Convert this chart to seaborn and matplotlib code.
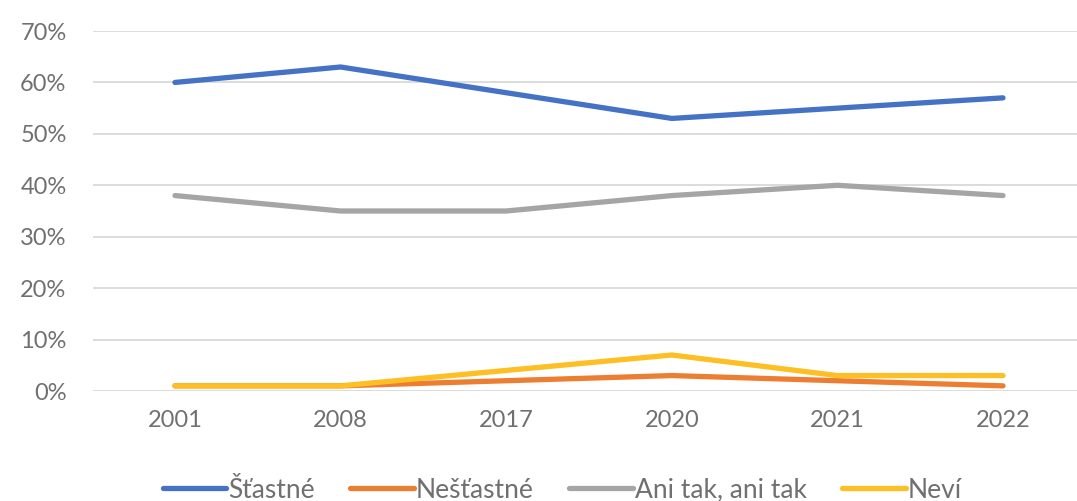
import matplotlib
matplotlib.use("Agg")
import matplotlib.pyplot as plt
import seaborn as sns
import pandas as pd
from matplotlib.ticker import FuncFormatter

years = ["2001", "2008", "2017", "2020", "2021", "2022"]
series_names = ["Šťastné", "Nešťastné", "Ani tak, ani tak", "Neví"]
stastne = [60, 63, 58, 53, 55, 57]
nestastne = [1, 1, 2, 3, 2, 1]
ani_tak = [38, 35, 35, 38, 40, 38]
nevi = [1, 1, 4, 7, 3, 3]
colors = ["#4472C4", "#ED7D31", "#A5A5A5", "#FDBF24"]

rows = []
for name, vals in zip(series_names, [stastne, nestastne, ani_tak, nevi]):
    for i, (y, v) in enumerate(zip(years, vals)):
        rows.append({"pos": i, "year": y, "value": v / 100, "series": name})
df = pd.DataFrame(rows)

sns.set_theme(style="white")
plt.rcParams["font.family"] = ["Lato", "DejaVu Sans"]

fig = plt.figure(figsize=(10.77, 5.01), dpi=100)
ax = fig.add_axes([93 / 1077, 1 - 391 / 501, 1 - 93 / 1077, (391 - 31) / 501])

sns.lineplot(data=df, x="pos", y="value", hue="series", hue_order=series_names,
             palette=colors, linewidth=3.8, ax=ax, legend=True,
             solid_capstyle="round", sort=False)

step = 165.6
ax.set_xlim((93 - 175) / step, (1077 - 175) / step)
ax.set_ylim(0, 0.7)
ax.set_yticks([i / 10 for i in range(8)])
ax.yaxis.set_major_formatter(FuncFormatter(lambda v, p: f"{v * 100:.0f}%"))
ax.set_xticks(range(len(years)))
ax.set_xticklabels(years)
ax.set_xlabel("")
ax.set_ylabel("")
ax.grid(axis="y", color="#D9D9D9", linewidth=1.3)
ax.set_axisbelow(True)
for s in ax.spines.values():
    s.set_visible(False)
ax.tick_params(axis="both", length=0, labelsize=17, colors="#707070")
ax.tick_params(axis="y", pad=19)
ax.tick_params(axis="x", pad=14)

handles, labels = ax.get_legend_handles_labels()
ax.get_legend().remove()
for h in handles:
    h.set_linewidth(3.8)
    h.set_solid_capstyle("round")
leg = fig.legend(handles, labels, loc="center", bbox_to_anchor=(0.522, 1 - 490 / 501),
                 ncol=4, frameon=False, fontsize=19, handlelength=2.4,
                 handletextpad=0.08, columnspacing=1.35, labelcolor="#707070")

fig.savefig("out.png", dpi=100)
